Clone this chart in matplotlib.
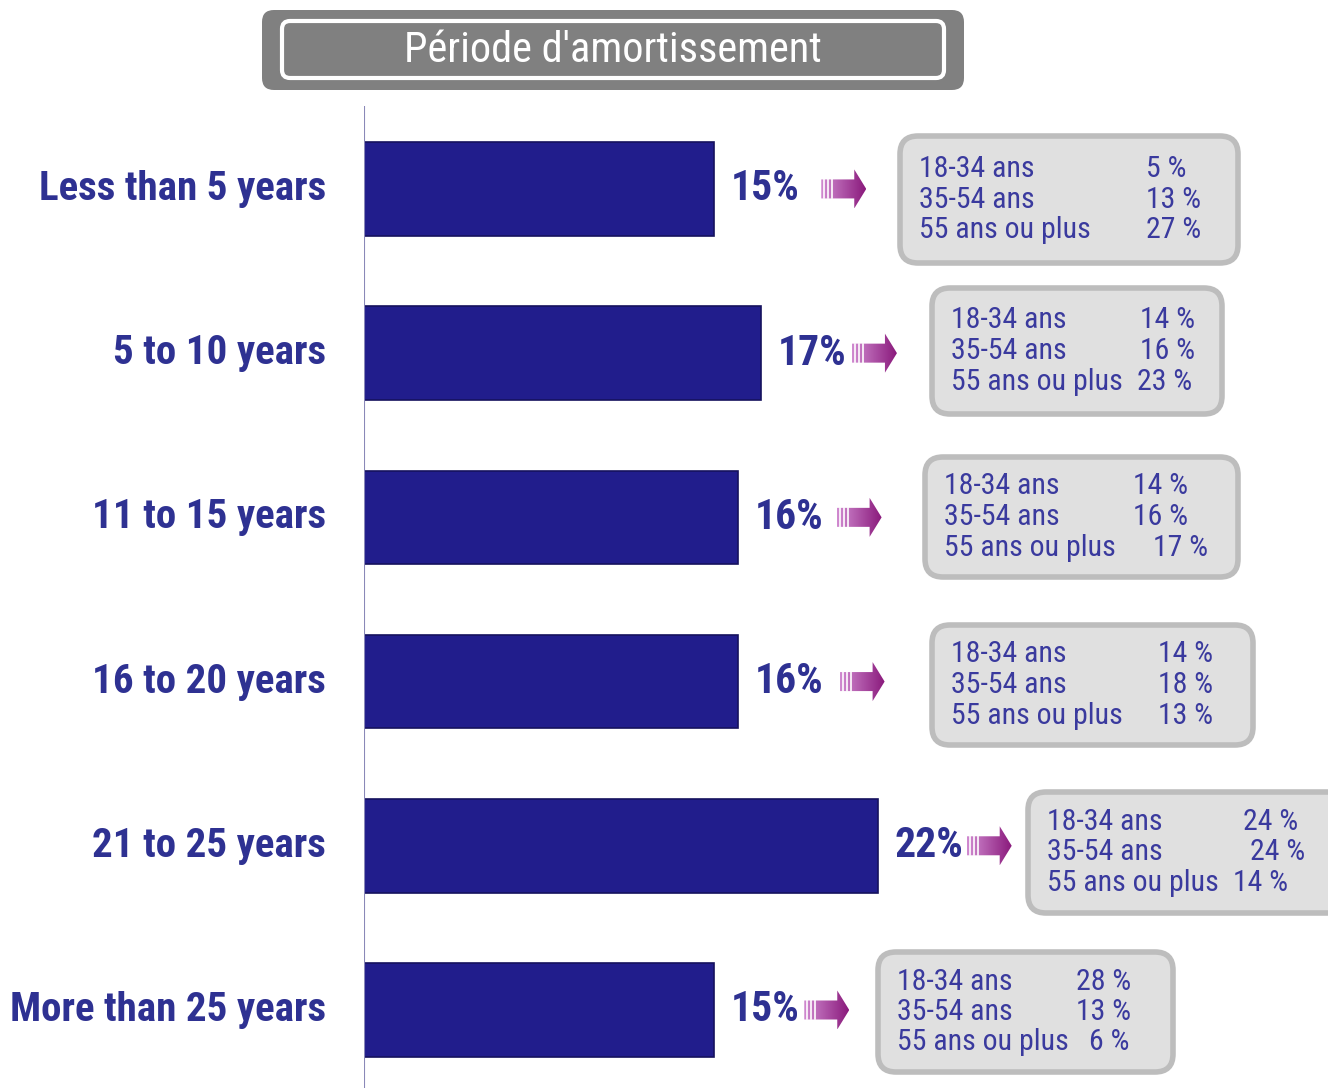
import matplotlib.pyplot as plt
import numpy as np
from matplotlib.patches import FancyBboxPatch, Polygon
from matplotlib.colors import LinearSegmentedColormap

# Data
categories = ['Less than 5 years', '5 to 10 years', '11 to 15 years',
              '16 to 20 years', '21 to 25 years', 'More than 25 years']
values = [15, 17, 16, 16, 22, 15]
age_groups = ['18-34 ans', '35-54 ans', '55 ans ou plus']
age_values = [[5, 13, 27],
              [14, 16, 23],
              [14, 16, 17],
              [14, 18, 13],
              [24, 24, 14],
              [28, 13, 6]]
title = "Période d'amortissement"

# Layout (pixels)
W, H = 1328, 1088
bar_color = '#211D8C'
label_color = '#2E3192'
box_text_color = '#3A3A9E'
narrow = ['Roboto Condensed', 'DejaVu Sans']
# box: left, top, right, bottom ; column x for numbers
boxes = [(900, 136, 1238, 263), (932, 288, 1222, 414), (925, 457, 1238, 577),
         (932, 625, 1253, 745), (1028, 792, 1345, 913), (878, 952, 1173, 1072)]
num_x = [[1146, 1146, 1146], [1140, 1140, 1137], [1133, 1133, 1153],
         [1158, 1158, 1158], [1243, 1250, 1233], [1076, 1076, 1089]]
arrow_off = [107, 91, 99, 102, 89, 90]

fig = plt.figure(figsize=(W / 100, H / 100), dpi=100)
px_per_unit = 23.35
ax = fig.add_axes([364 / W, 0, (W - 364) / W, (H - 106) / H])
y = np.arange(len(categories))
ax.barh(y, values, height=0.57, color=bar_color, edgecolor='#15125E', linewidth=1.2, zorder=2)
ax.set_xlim(0, (W - 364) / px_per_unit)
ylim = (5.475, -0.505)
ax.set_ylim(*ylim)
ax.axis('off')
ax.axvline(0, color='#8A88B8', lw=1.5, zorder=3)

row_py = 164.2  # pixels per row
cmap = LinearSegmentedColormap.from_list('arr', ['#D08AD0', '#8A1A7C'])
grad = np.linspace(0, 1, 100).reshape(1, -1)

for i, v in enumerate(values):
    ax.text(-38 / px_per_unit, i, categories[i], ha='right', va='center',
            fontsize=29.5, fontweight='bold', color=label_color, family=narrow)
    ax.text(v + 17 / px_per_unit, i, f'{v}%', ha='left', va='center',
            fontsize=30, fontweight='bold', color=label_color, family=narrow)
    # arrow
    x0 = v + arrow_off[i] / px_per_unit
    L = 45 / px_per_unit
    hl = 12 / px_per_unit
    th = 9.5 / row_py
    hh = 19.5 / row_py
    pts = [(x0, i - th), (x0 + L - hl, i - th), (x0 + L - hl, i - hh), (x0 + L, i),
           (x0 + L - hl, i + hh), (x0 + L - hl, i + th), (x0, i + th)]
    poly = Polygon(pts, closed=True, facecolor='none', edgecolor='none')
    ax.add_patch(poly)
    im = ax.imshow(grad, extent=[x0, x0 + L, i + hh, i - hh], cmap=cmap,
                   aspect='auto', zorder=3)
    im.set_clip_path(poly)
    for k in range(3):
        xs = x0 + (3 + 4 * k) / px_per_unit
        ax.plot([xs, xs], [i - th, i + th], color='white', lw=1.2, zorder=4)

ax.set_xlim(0, (W - 364) / px_per_unit)
ax.set_ylim(*ylim)

# Overlay in pixel coordinates for title and boxes
ov = fig.add_axes([0, 0, 1, 1], zorder=5)
ov.set_xlim(0, W)
ov.set_ylim(H, 0)
ov.axis('off')
ov.patch.set_alpha(0)

ov.add_patch(FancyBboxPatch((262, 10), 702, 80, boxstyle='round,pad=0,rounding_size=12',
                            facecolor='#808080', edgecolor='none'))
ov.add_patch(FancyBboxPatch((282, 21), 662, 57, boxstyle='round,pad=0,rounding_size=8',
                            facecolor='none', edgecolor='white', lw=3))
ov.text(613, 50, title, ha='center', va='center', fontsize=30.5, color='white', family=narrow)

for i, (l, t, r, b) in enumerate(boxes):
    ov.add_patch(FancyBboxPatch((l, t), r - l, b - t, boxstyle='round,pad=0,rounding_size=18',
                                facecolor='#E0E0E0', edgecolor='#BDBDBD', lw=4))
    cy = (t + b) / 2
    for j, g in enumerate(age_groups):
        yy = cy + (j - 1) * 30.5
        ov.text(l + 19, yy, g, ha='left', va='center', fontsize=21.5,
                color=box_text_color, family=narrow)
        ov.text(num_x[i][j], yy, f'{age_values[i][j]} %', ha='left', va='center',
                fontsize=21.5, color=box_text_color, family=narrow)

fig.savefig('out.png', dpi=100)
